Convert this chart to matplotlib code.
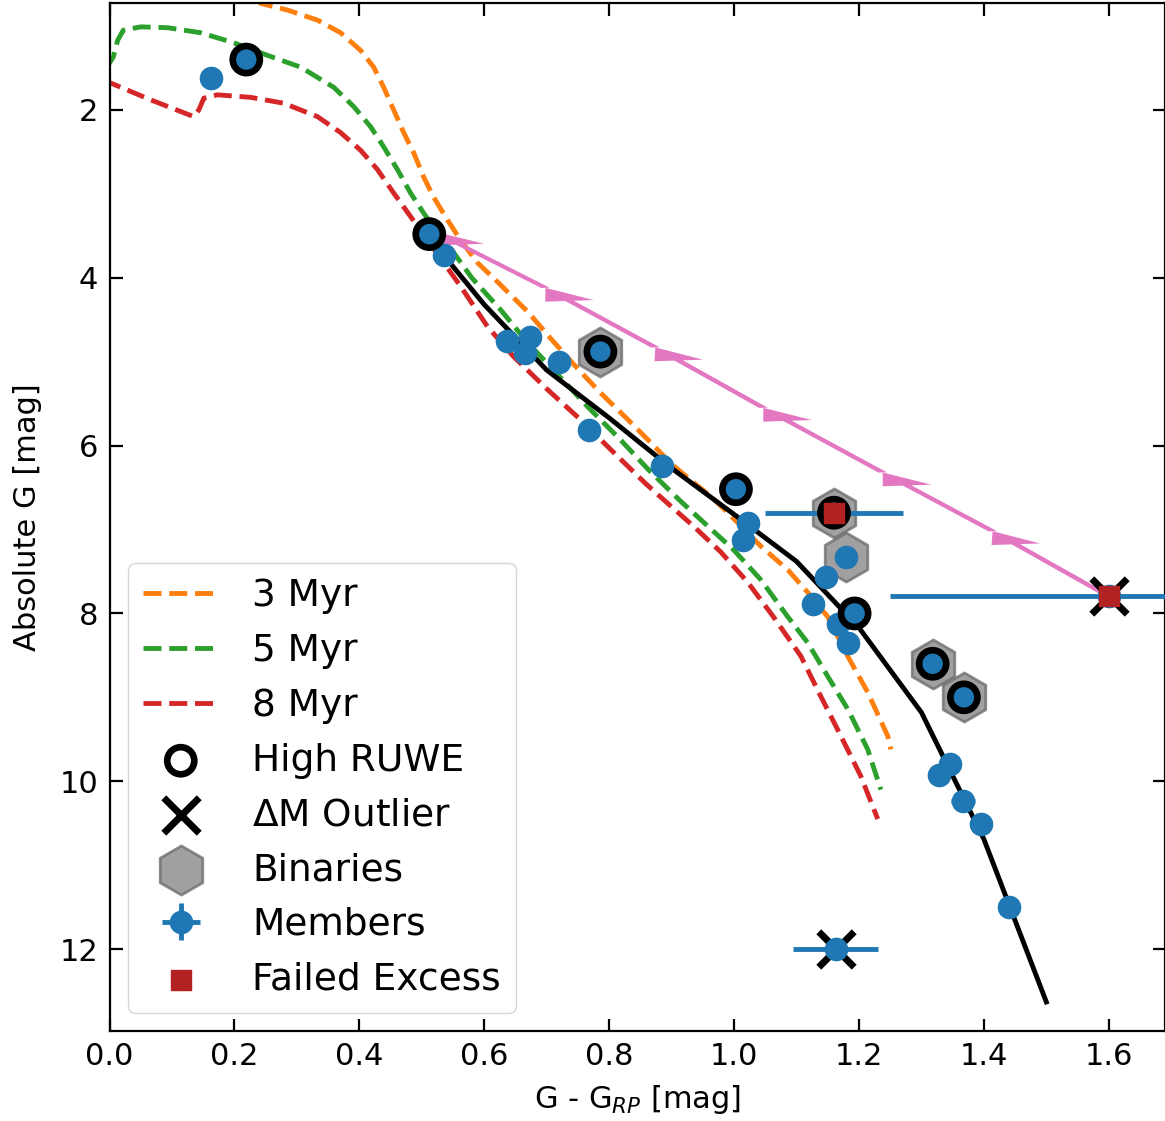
import numpy as np
import matplotlib
matplotlib.use('Agg')
import matplotlib.pyplot as plt

# isochrones (G-G_RP, M_G)
iso3_color = [0.22, 0.242, 0.285, 0.333, 0.370, 0.402, 0.423, 0.439, 0.455, 0.471, 0.487, 0.503, 0.519, 0.541,
              0.562, 0.589, 0.62, 0.669, 0.706, 0.743, 0.786, 0.830, 0.862, 0.900, 0.935, 0.965, 0.990, 1.043,
              1.086, 1.118, 1.150, 1.182, 1.214, 1.246, 1.251]
iso3_mag = [0.55, 0.73, 0.81, 0.93, 1.08, 1.29, 1.49, 1.73, 2.00, 2.27, 2.51, 2.80, 3.04, 3.31,
            3.55, 3.82, 4.04, 4.40, 4.72, 5.03, 5.37, 5.69, 5.93, 6.22, 6.44, 6.62, 6.80, 7.20,
            7.48, 7.75, 8.04, 8.51, 8.94, 9.46, 9.62]
iso5_color = [-0.005, 0.006, 0.013, 0.022, 0.050, 0.093, 0.146, 0.199, 0.253, 0.306, 0.359, 0.391, 0.418,
              0.439, 0.461, 0.482, 0.503, 0.525, 0.551, 0.580, 0.626, 0.669, 0.711, 0.766, 0.818, 0.862,
              0.914, 0.958, 0.999, 1.043, 1.086, 1.118, 1.150, 1.182, 1.214, 1.235]
iso5_mag = [1.50, 1.37, 1.17, 1.05, 1.01, 1.02, 1.08, 1.20, 1.35, 1.49, 1.73, 1.96, 2.20,
            2.44, 2.71, 2.99, 3.23, 3.46, 3.70, 4.00, 4.38, 4.77, 5.10, 5.54, 5.93, 6.28,
            6.66, 6.96, 7.24, 7.60, 8.04, 8.35, 8.75, 9.14, 9.62, 10.10]
iso8_color = [-0.01, 0.002, 0.066, 0.135, 0.143, 0.151, 0.173, 0.226, 0.279, 0.333, 0.370, 0.402, 0.429,
              0.455, 0.482, 0.509, 0.535, 0.562, 0.605, 0.647, 0.701, 0.754, 0.807, 0.858, 0.894, 0.935,
              0.979, 1.022, 1.063, 1.107, 1.139, 1.171, 1.203, 1.230]
iso8_mag = [1.66, 1.68, 1.88, 2.08, 2.00, 1.86, 1.82, 1.85, 1.92, 2.08, 2.27, 2.48, 2.71,
            2.99, 3.27, 3.55, 3.82, 4.10, 4.58, 4.94, 5.33, 5.69, 6.08, 6.45, 6.69, 6.96,
            7.27, 7.63, 8.04, 8.51, 8.99, 9.46, 9.94, 10.45]

# empirical sequence
seq_color = [0.535, 0.6, 0.7, 0.8, 0.9, 1.0, 1.1, 1.2, 1.3, 1.4, 1.5]
seq_mag = [3.73, 4.32, 5.10, 5.67, 6.27, 6.82, 7.38, 8.17, 9.18, 10.69, 12.63]

# evolutionary track (pink arrows)
track_color = [1.598, 1.414, 1.238, 1.047, 0.874, 0.698, 0.52]
track_mag = [7.79, 7.02, 6.32, 5.55, 4.83, 4.12, 3.45]

# members
mem_color = [0.163, 0.219, 0.512, 0.535, 0.637, 0.674, 0.666, 0.719, 0.786, 0.767, 0.884, 1.003, 1.023, 1.015,
             1.160, 1.179, 1.148, 1.127, 1.193, 1.167, 1.182, 1.318, 1.368, 1.345, 1.328, 1.366, 1.395, 1.441,
             1.163, 1.600]
mem_mag = [1.62, 1.40, 3.48, 3.73, 4.75, 4.71, 4.90, 5.00, 4.88, 5.82, 6.24, 6.52, 6.92, 7.12,
           6.80, 7.33, 7.57, 7.89, 8.00, 8.13, 8.35, 8.60, 9.00, 9.80, 9.93, 10.24, 10.51, 11.50,
           12.00, 7.79]
mem_xerr = [0.01, 0.01, 0.01, 0.01, 0.01, 0.01, 0.01, 0.01, 0.01, 0.01, 0.01, 0.01, 0.01, 0.01,
            0.11, 0.01, 0.01, 0.01, 0.01, 0.01, 0.01, 0.01, 0.01, 0.01, 0.01, 0.019, 0.01, 0.01,
            0.068, 0.35]
mem_yerr = [0.05] * len(mem_color)

ruwe_color = [0.219, 0.512, 0.786, 1.003, 1.160, 1.193, 1.318, 1.368]
ruwe_mag = [1.40, 3.48, 4.88, 6.52, 6.80, 8.00, 8.60, 9.00]
bin_color = [0.786, 1.160, 1.179, 1.318, 1.368]
bin_mag = [4.88, 6.80, 7.33, 8.60, 9.00]
out_color = [1.163, 1.600]
out_mag = [12.00, 7.79]
fail_color = [1.160, 1.600]
fail_mag = [6.80, 7.79]

fig = plt.figure(figsize=(11.65, 11.21), dpi=100)
ax = fig.add_axes([0.094, 0.080, 0.906, 0.917])

l3, = ax.plot(iso3_color, iso3_mag, '--', color='tab:orange', lw=3.5, zorder=2, label='3 Myr')
l5, = ax.plot(iso5_color, iso5_mag, '--', color='tab:green', lw=3.5, zorder=2, label='5 Myr')
l8, = ax.plot(iso8_color, iso8_mag, '--', color='tab:red', lw=3.5, zorder=2, label='8 Myr')
ax.plot(seq_color, seq_mag, '-', color='black', lw=3.5, zorder=2)

# arrows in data units (heads get sheared by the unequal axis scales)
for i in range(len(track_color) - 1):
    ax.arrow(track_color[i], track_mag[i], track_color[i + 1] - track_color[i], track_mag[i + 1] - track_mag[i],
             width=0.014, head_width=0.08, head_length=0.16, length_includes_head=True,
             color='tab:pink', lw=0, zorder=2.5)

hb = ax.scatter(bin_color, bin_mag, s=1250, marker='h', facecolor='gray', edgecolor='dimgray',
                lw=2, alpha=0.75, zorder=3, label='Binaries')
hx = ax.scatter(out_color, out_mag, s=650, marker='x', color='black', lw=5, zorder=4, label=r'$\Delta$M Outlier')
hm = ax.errorbar(mem_color, mem_mag, xerr=mem_xerr, yerr=mem_yerr, fmt='o', color='tab:blue', ms=16,
                 elinewidth=3.5, capsize=0, zorder=5, label='Members')
hr = ax.scatter(ruwe_color, ruwe_mag, s=380, marker='o', facecolor='none', edgecolor='black', lw=4.8,
                zorder=6, label='High RUWE')
hf = ax.scatter(fail_color, fail_mag, s=220, marker='s', color='firebrick', zorder=7, label='Failed Excess')

ax.set_xlim(0, 1.69)
ax.set_ylim(12.98, 0.73)
ax.set_xticks(np.arange(0, 1.61, 0.2))
ax.set_yticks([2, 4, 6, 8, 10, 12])
ax.tick_params(direction='in', top=True, right=True, length=9, width=1.6, labelsize=22, pad=8)
for s in ax.spines.values():
    s.set_linewidth(1.6)
ax.set_xlabel('G - G$_{RP}$ [mag]', fontsize=22, labelpad=8)
ax.set_ylabel('Absolute G [mag]', fontsize=22, labelpad=13)

ax.legend(handles=[l3, l5, l8, hr, hx, hb, hm, hf], loc='lower left', fontsize=27,
          borderaxespad=0.5, handletextpad=0.9)

fig.savefig('out.png', dpi=100)
